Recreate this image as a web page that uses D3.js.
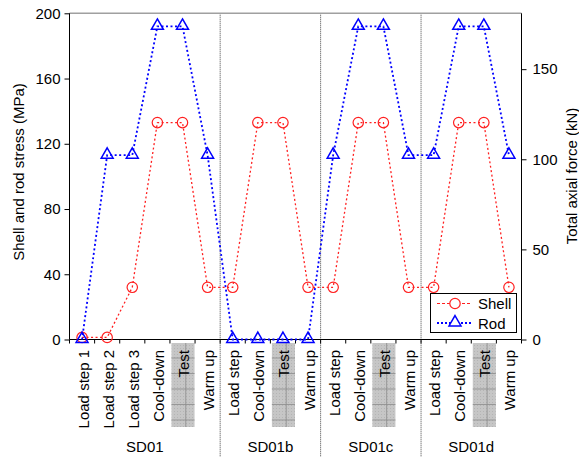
<!DOCTYPE html>
<html>
<head>
<meta charset="utf-8">
<script src="https://cdn.jsdelivr.net/npm/d3@7"></script>
<style>
body { margin: 0; background: #fff; }
text { font-family: "Liberation Sans", Arial, sans-serif; fill: #000; }
</style>
</head>
<body>
<div id="chart"></div>
<script>
'use strict'

// categories along the bottom, grouped by specimen
var groups = ["SD01", "SD01b", "SD01c", "SD01d"];
var groupSteps = [
	["Load step 1", "Load step 2", "Load step 3", "Cool-down", "Test", "Warm up"],
	["Load step", "Cool-down", "Test", "Warm up"],
	["Load step", "Cool-down", "Test", "Warm up"],
	["Load step", "Cool-down", "Test", "Warm up"]
];
// stresses in MPa (left axis)
var shellStress = [1.3, 1.3, 32, 133, 133, 32, 32, 133, 133, 32, 32, 133, 133, 32, 32, 133, 133, 32];
var rodStress = [0, 113, 113, 192, 192, 113, 0, 0, 0, 0, 113, 192, 192, 113, 113, 192, 192, 113];
var leftTicks = [0, 40, 80, 120, 160, 200];
var rightTicks = [0, 50, 100, 150];
var seriesNames = ["Shell", "Rod"];

var width = 579, height = 457;
var x0 = 69.5, x1 = 521.5, yTop = 13.3, yBot = 339.5;
var FONT = "'Liberation Sans', Arial, sans-serif";

// flatten categories
var cats = [];
groups.forEach(function(g, gi){
	groupSteps[gi].forEach(function(s){
		cats.push({ key: g + "|" + s, group: g, step: s });
	});
});

var svg = d3.select("#chart")
	.append("svg")
	.attr("width", width)
	.attr("height", height)
	.style("font-family", FONT);

var x = d3.scaleBand()
	.domain(cats.map(function(d){ return d.key; }))
	.range([x0, x1]);

var y = d3.scaleLinear().domain([0, 200]).range([yBot, yTop]);
var yRight = d3.scaleLinear().domain([0, 181]).range([yBot, yTop]);

// shaded boxes behind the "Test" labels
var defs = svg.append("defs");
var pat = defs.append("pattern")
	.attr("id", "testgrid")
	.attr("patternUnits", "userSpaceOnUse")
	.attr("width", 3).attr("height", 3);
pat.append("rect").attr("width", 3).attr("height", 3).attr("fill", "#c6c6c6");
pat.append("rect").attr("width", 1).attr("height", 1).attr("fill", "#b4b4b4");

var testCats = cats.filter(function(d){ return d.step === "Test"; });
var shade = svg.append("g");
testCats.forEach(function(d){
	var bx = x(d.key) + 1.5, bw = x.bandwidth() - 2;
	shade.append("rect")
		.attr("x", bx).attr("y", 343)
		.attr("width", bw).attr("height", 84)
		.attr("fill", "url(#testgrid)");
	shade.append("line")
		.attr("x1", bx + bw * 0.62).attr("x2", bx + bw * 0.62)
		.attr("y1", 343).attr("y2", 427)
		.attr("stroke", "#8c8c8c").attr("stroke-width", 0.8);
	[358, 373.5, 389, 404.5, 420].forEach(function(hy){
		shade.append("line")
			.attr("x1", bx).attr("x2", bx + bw)
			.attr("y1", hy).attr("y2", hy)
			.attr("stroke", "#8c8c8c").attr("stroke-width", 0.8);
	});
});

// group dividers
var firsts = [];
groups.forEach(function(g, gi){
	if(gi > 0) firsts.push(x(g + "|" + groupSteps[gi][0]));
});
svg.append("g")
	.selectAll("line")
	.data(firsts)
	.enter()
	.append("line")
		.attr("x1", function(d){ return d; })
		.attr("x2", function(d){ return d; })
		.attr("y1", yTop)
		.attr("y2", height)
		.attr("stroke", "#444")
		.attr("stroke-width", 1)
		.attr("stroke-dasharray", "1,1");

// top frame line
svg.append("line")
	.attr("x1", x0).attr("x2", x1)
	.attr("y1", yTop).attr("y2", yTop)
	.attr("stroke", "#a0a0a0").attr("stroke-width", 1.5);

// left axis
var gl = svg.append("g")
	.attr("transform", "translate(" + x0 + ",0)")
	.call(d3.axisLeft(y).tickValues(leftTicks).tickSize(5).tickPadding(4));
// right axis
var gr = svg.append("g")
	.attr("transform", "translate(" + x1 + ",0)")
	.call(d3.axisRight(yRight).tickValues(rightTicks).tickSize(5).tickPadding(6));
// bottom axis : ticks on category boundaries
var bounds = cats.map(function(d){ return x(d.key); }).concat([x1]);
var gb = svg.append("g");
gb.append("line")
	.attr("x1", x0).attr("x2", x1)
	.attr("y1", yBot).attr("y2", yBot)
	.attr("stroke", "#000").attr("stroke-width", 1);
gb.selectAll(".btick")
	.data(bounds)
	.enter()
	.append("line")
		.attr("x1", function(d){ return d; })
		.attr("x2", function(d){ return d; })
		.attr("y1", yBot)
		.attr("y2", yBot + 4)
		.attr("stroke", "#000");

[gl, gr].forEach(function(g){
	g.attr("font-family", FONT).attr("font-size", 15);
	g.select(".domain").attr("stroke", "#000").attr("d", function(){
		return "M0," + yTop + "V" + yBot;
	});
	g.selectAll(".tick line").attr("stroke", "#000");
	g.selectAll(".tick text").attr("fill", "#000");
});

// category labels, rotated
svg.append("g")
	.selectAll("text")
	.data(cats)
	.enter()
	.append("text")
		.attr("transform", function(d){
			return "translate(" + (x(d.key) + x.bandwidth() / 2 + 1) + ",350) rotate(-90)";
		})
		.attr("text-anchor", "end")
		.attr("dominant-baseline", "central")
		.style("font-size", "15px")
		.text(function(d){ return d.step; });

// group labels
groups.forEach(function(g, gi){
	var steps = groupSteps[gi];
	var a = x(g + "|" + steps[0]);
	var b = x(g + "|" + steps[steps.length - 1]) + x.bandwidth();
	svg.append("text")
		.attr("x", (a + b) / 2)
		.attr("y", 452)
		.attr("text-anchor", "middle")
		.style("font-size", "15px")
		.text(g);
});

// axis titles
svg.append("text")
	.attr("transform", "translate(18,172) rotate(-90)")
	.attr("text-anchor", "middle")
	.attr("dominant-baseline", "central")
	.style("font-size", "15px")
	.text("Shell and rod stress (MPa)");
svg.append("text")
	.attr("transform", "translate(571,176) rotate(-90)")
	.attr("text-anchor", "middle")
	.attr("dominant-baseline", "central")
	.style("font-size", "15px")
	.text("Total axial force (kN)");

// series
var cx = function(d, i){ return x(cats[i].key) + x.bandwidth() / 2; };
var line = d3.line()
	.x(function(d, i){ return cx(d, i); })
	.y(function(d){ return y(d); });

svg.append("path")
	.datum(shellStress)
	.attr("d", line)
	.attr("fill", "none")
	.attr("stroke", "#ff2020")
	.attr("stroke-width", 1.3)
	.attr("stroke-dasharray", "2,2.5");

svg.append("path")
	.datum(rodStress)
	.attr("d", line)
	.attr("fill", "none")
	.attr("stroke", "#0000ff")
	.attr("stroke-width", 1.8)
	.attr("stroke-dasharray", "2,2.5");

svg.append("g")
	.selectAll("circle")
	.data(shellStress)
	.enter()
	.append("circle")
		.attr("cx", function(d, i){ return cx(d, i); })
		.attr("cy", function(d){ return y(d); })
		.attr("r", 5.2)
		.attr("fill", "none")
		.attr("stroke", "#ff2020")
		.attr("stroke-width", 1.2);

var tri = d3.symbol().type(d3.symbolTriangle).size(62);
svg.append("g")
	.selectAll("path")
	.data(rodStress)
	.enter()
	.append("path")
		.attr("d", tri)
		.attr("transform", function(d, i){ return "translate(" + cx(d, i) + "," + (y(d) - 0.5) + ")"; })
		.attr("fill", "none")
		.attr("stroke", "#0000ff")
		.attr("stroke-width", 1.5);

// legend
var lg = svg.append("g");
lg.append("rect")
	.attr("x", 430.5).attr("y", 293.5)
	.attr("width", 86).attr("height", 39)
	.attr("fill", "#fff")
	.attr("stroke", "#000")
	.attr("stroke-width", 1);
var legendRows = [
	{ name: seriesNames[0], color: "#ff2020", w: 1.1, dash: "3,2", y: 303.5 },
	{ name: seriesNames[1], color: "#0000ff", w: 2, dash: "2,2", y: 323 }
];
legendRows.forEach(function(r, i){
	lg.append("line")
		.attr("x1", 437).attr("x2", 472)
		.attr("y1", r.y).attr("y2", r.y)
		.attr("stroke", r.color)
		.attr("stroke-width", r.w)
		.attr("stroke-dasharray", r.dash);
	if(i === 0){
		lg.append("circle")
			.attr("cx", 455).attr("cy", r.y).attr("r", 5.2)
			.attr("fill", "#fff").attr("stroke", r.color).attr("stroke-width", 1.2);
	} else {
		lg.append("path")
			.attr("d", tri)
			.attr("transform", "translate(455," + (r.y - 0.5) + ")")
			.attr("fill", "#fff").attr("stroke", r.color).attr("stroke-width", 1.5);
	}
	lg.append("text")
		.attr("x", 478).attr("y", r.y)
		.attr("dominant-baseline", "central")
		.style("font-size", "15px")
		.text(r.name);
});
</script>
</body>
</html>
